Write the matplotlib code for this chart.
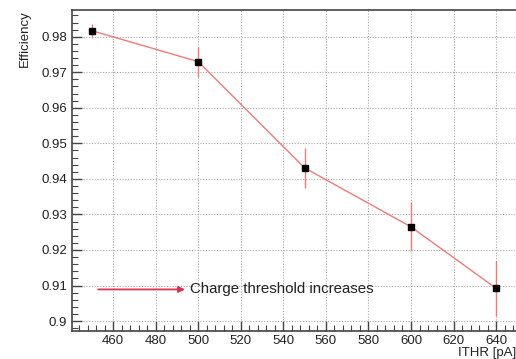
import matplotlib
matplotlib.use('Agg')
import matplotlib.pyplot as plt
from matplotlib.ticker import MultipleLocator

# Efficiency vs ITHR threshold current
ithr = [450, 500, 550, 600, 640]
efficiency = [0.9817, 0.9730, 0.9431, 0.9265, 0.9092]
eff_err = [0.0020, 0.0042, 0.0057, 0.0069, 0.0078]

plt.rcParams['font.family'] = ['Liberation Sans', 'DejaVu Sans']

fig = plt.figure(figsize=(5.16, 3.59), dpi=100)
x0, x1 = 440.7, 650.0
ax = fig.add_axes([72 / 516, 28 / 359, (x1 - x0) * 2.128 / 516, 321 / 359])

line_col = '#ee7a7a'
ax.errorbar(ithr, efficiency, yerr=eff_err, color=line_col, lw=1.0,
            elinewidth=1.0, capsize=0, zorder=3)
ax.plot(ithr, efficiency, 's', color='black', ms=5, zorder=4)

ax.set_xlim(x0, x1)
ax.set_ylim(0.8972, 0.98752)

ax.xaxis.set_major_locator(MultipleLocator(20))
ax.xaxis.set_minor_locator(MultipleLocator(4))
ax.yaxis.set_major_locator(MultipleLocator(0.01))
ax.yaxis.set_minor_locator(MultipleLocator(0.002))
ax.yaxis.set_major_formatter(plt.FuncFormatter(lambda v, p: '0.9' if abs(v - 0.9) < 1e-6 else f'{v:.2f}'))

ax.tick_params(which='major', direction='in', length=7, width=1.0, color='#444444',
               labelsize=9.5, labelcolor='#222222', top=False, right=False)
ax.tick_params(which='minor', direction='in', length=4, width=0.8, color='#444444',
               top=False, right=False)
ax.tick_params(axis='x', pad=3)
ax.grid(True, which='major', linestyle=(0, (1, 1.5)), color='#aaaaaa', lw=0.8)

for s in ax.spines.values():
    s.set_color('#444444')
    s.set_linewidth(1.2)

# threshold arrow
ax.annotate('', xy=(493.8, 0.9089), xytext=(453, 0.9089),
            arrowprops=dict(arrowstyle='-|>', color='#d8334f', lw=1.3,
                            mutation_scale=9, shrinkA=0, shrinkB=0))
ax.text(496, 0.9089, 'Charge threshold increases', fontsize=10.8,
        color='#222222', va='center', ha='left')

fig.text(25 / 516, 1 - 10 / 359, 'Efficiency', rotation=90, ha='center', va='top',
         fontsize=9.5, color='#222222')
fig.text(1.0, 1 - 353 / 359, 'ITHR [pA]', ha='right', va='center',
         fontsize=9.5, color='#222222')

fig.savefig('out.png', dpi=100, facecolor='white')
